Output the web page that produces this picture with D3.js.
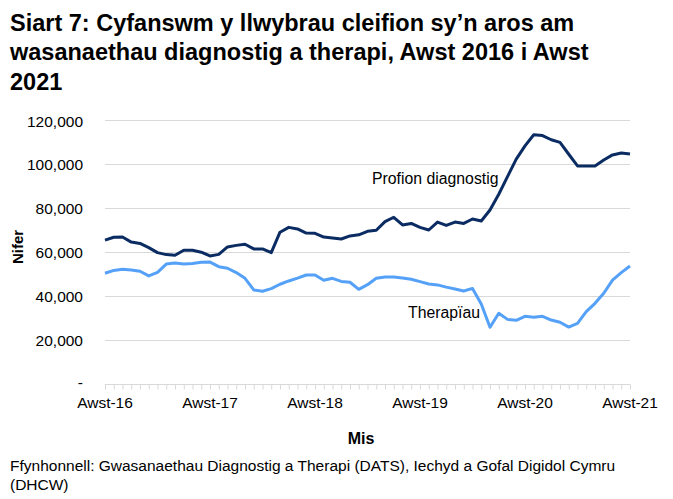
<!DOCTYPE html>
<html>
<head>
<meta charset="utf-8">
<script src="https://cdn.jsdelivr.net/npm/d3@7"></script>
<style>
  html, body { margin: 0; padding: 0; background: #fff; }
  svg { display: block; }
  text { font-family: "Liberation Sans", Arial, sans-serif; fill: #000; }
</style>
</head>
<body>
<svg id="chart" width="673" height="499"></svg>
<script>
// ---- Data ----
const months = d3.range(61); // Aug 2016 .. Aug 2021, monthly
const tickLabels = ["Awst-16", "Awst-17", "Awst-18", "Awst-19", "Awst-20", "Awst-21"];
const yTicks = [0, 20000, 40000, 60000, 80000, 100000, 120000];

const diagnostig = [
  65300, 66600, 66700, 64400, 63800, 61900, 59600, 58700, 58400, 60700,
  60700, 59800, 58100, 58800, 62200, 62900, 63400, 61300, 61300, 59600,
  68900, 71100, 70400, 68500, 68400, 66700, 66300, 65800, 67200, 67700,
  69300, 69800, 73700, 75700, 72200, 72900, 71100, 69900, 73500, 72000,
  73500, 72900, 74900, 74000, 79000, 86200, 94200, 102200, 108200, 113300,
  112900, 111000, 109800, 104400, 99100, 99100, 99100, 101800, 104100, 105000,
  104500
];
const therapiau = [
  50200, 51500, 52000, 51700, 51100, 49000, 50600, 54400, 54900, 54400,
  54700, 55200, 55300, 53200, 52500, 50500, 47900, 42600, 42000, 43200,
  45200, 46700, 48000, 49400, 49400, 47000, 47900, 46500, 46100, 42900,
  45000, 47900, 48500, 48500, 48000, 47500, 46400, 45300, 44900, 43900,
  43000, 42100, 43300, 36200, 25600, 32000, 29200, 28800, 30600, 30200,
  30600, 28900, 27900, 25700, 27400, 32700, 36500, 41100, 47100, 50500,
  53500
];

const seriesNames = ["Profion diagnostig", "Therapïau"];
const seriesColors = ["#0b2c62", "#55a1f7"];

// ---- Layout ----
const svg = d3.select("#chart");
const plotL = 105, plotR = 630, plotT = 120, plotB = 383.5;

const x = d3.scaleLinear().domain([0, 60]).range([plotL, plotR]);
const y = d3.scaleLinear().domain([0, 120000]).range([plotB, plotT]);

// Title
const titleLines = [
  "Siart 7: Cyfanswm y llwybrau cleifion sy\u2019n aros am",
  "wasanaethau diagnostig a therapi, Awst 2016 i Awst",
  "2021"
];
svg.append("g").selectAll("text").data(titleLines).join("text")
  .attr("x", 10)
  .attr("y", (d, i) => 30.5 + i * 29.5)
  .attr("font-size", "23.5px")
  .attr("font-weight", "bold")
  .text(d => d);

// Gridlines
svg.append("g").selectAll("line").data(yTicks.filter(t => t > 0)).join("line")
  .attr("x1", plotL).attr("x2", plotR)
  .attr("y1", d => Math.round(y(d)) + 0.5).attr("y2", d => Math.round(y(d)) + 0.5)
  .attr("stroke", "#d9d9d9").attr("stroke-width", 1);

// Y axis labels
const fmt = d3.format(",");
svg.append("g").selectAll("text").data(yTicks).join("text")
  .attr("x", 83)
  .attr("y", d => y(d) + (d === 0 ? 4 : 6.5))
  .attr("text-anchor", "end")
  .attr("font-size", "15.5px")
  .text(d => d === 0 ? "-" : fmt(d));

// X axis line and ticks
const xAxis = d3.axisBottom(x).tickValues(months).tickSize(5).tickFormat("");
const gx = svg.append("g").attr("transform", `translate(0,${Math.round(plotB) + 0.5})`).call(xAxis);
gx.select(".domain").attr("stroke", "#d9d9d9").attr("d", `M${plotL},0.5V0H${plotR}V0.5`);
gx.selectAll(".tick line").attr("stroke", "#d9d9d9");

// X labels
svg.append("g").selectAll("text").data(tickLabels).join("text")
  .attr("x", (d, i) => x(i * 12))
  .attr("y", 408)
  .attr("text-anchor", "middle")
  .attr("font-size", "15.5px")
  .text(d => d);

// Lines
const line = d3.line().x((d, i) => x(i)).y(d => y(d));
[diagnostig, therapiau].forEach((s, k) => {
  svg.append("path").datum(s)
    .attr("d", line)
    .attr("fill", "none")
    .attr("stroke", seriesColors[k])
    .attr("stroke-width", 3)
    .attr("stroke-linejoin", "round");
});

// Series labels
svg.append("text").attr("x", 372).attr("y", 184).attr("font-size", "15.8px").text(seriesNames[0]);
svg.append("text").attr("x", 408).attr("y", 318).attr("font-size", "15.8px").text(seriesNames[1]);

// Axis titles
svg.append("text").attr("x", 361).attr("y", 444).attr("text-anchor", "middle")
  .attr("font-size", "16px").attr("font-weight", "bold").text("Mis");
svg.append("text").attr("transform", "translate(23,247) rotate(-90)").attr("text-anchor", "middle")
  .attr("font-size", "15px").attr("font-weight", "bold").text("Nifer");

// Source
const sourceLines = [
  "Ffynhonnell: Gwasanaethau Diagnostig a Therapi (DATS), Iechyd a Gofal Digidol Cymru",
  "(DHCW)"
];
svg.append("g").selectAll("text").data(sourceLines).join("text")
  .attr("x", 10)
  .attr("y", (d, i) => 470.5 + i * 19)
  .attr("font-size", "15.5px")
  .text(d => d);
</script>
</body>
</html>
